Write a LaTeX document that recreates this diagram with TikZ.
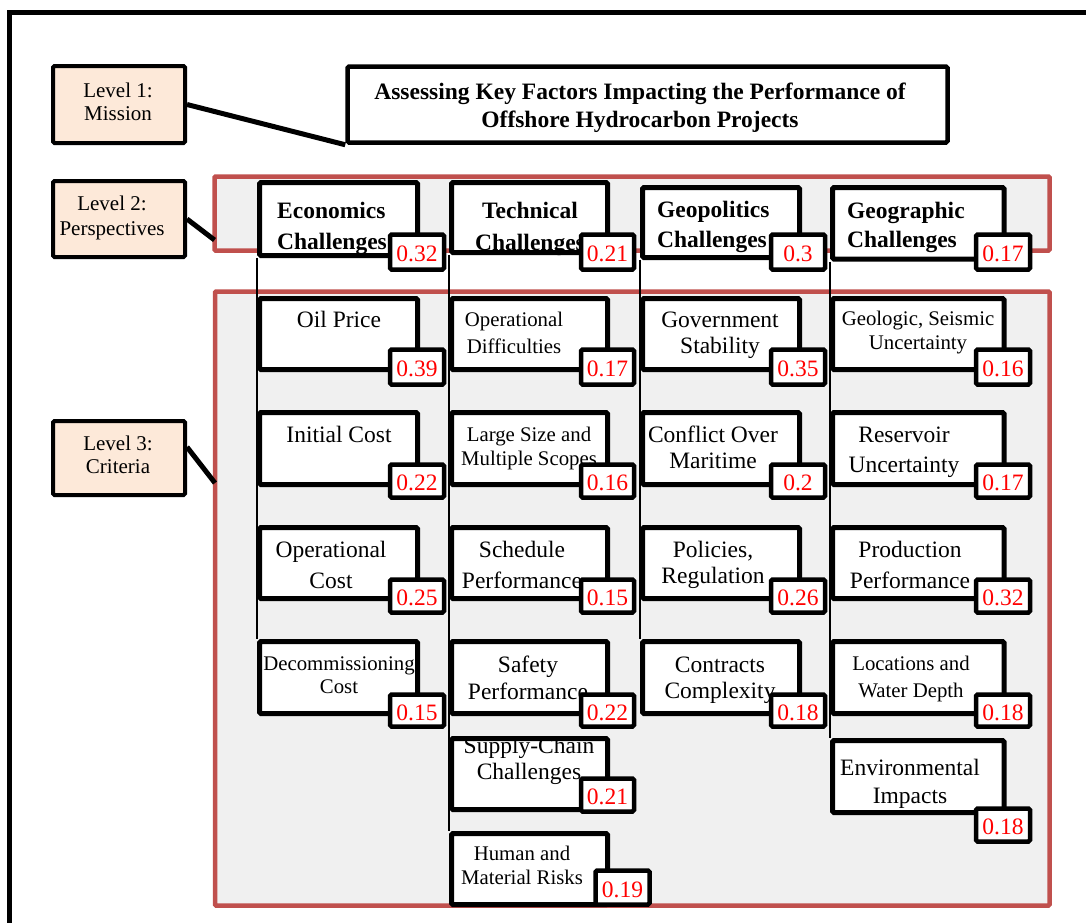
\documentclass[tikz,border=0pt]{standalone}
\usepackage{fontspec}
\setmainfont{Liberation Serif}
\usetikzlibrary{fit,backgrounds}
\definecolor{redline}{HTML}{C0504D}
\definecolor{grayfill}{HTML}{F0F0F0}
\definecolor{peach}{HTML}{FDE9D9}
\newcommand\fsz[2]{\fontsize{#1}{#2}\selectfont}
\newcommand\bigf[1]{\fsz{23.5}{#1}}
\newcommand\smallf[1]{\fsz{20.8}{#1}}
\newcommand\cb[9]{\node[cbox, fit={(#2,#3)(#4,#5)}] (#1) {};
  \node[txt, font=#8] (#1-t) at (#6,#7) {#9};}
\newcommand\wb[6]{\node[wbox, minimum width={#4-#2}, minimum height={#5-#3}] (#1-w) at ({(#2+#4)/2},{(#3+#5)/2}) {#6};}
\begin{document}
\begin{tikzpicture}[x=1pt,y=-1pt,
  cbox/.style={draw=black, line width=5pt, fill=white, rounded corners=1.5pt, inner sep=0pt},
  wbox/.style={draw=black, line width=4.5pt, fill=white, rounded corners=1.5pt, inner sep=0pt, text=red, font=\fsz{23.5}{28}, text height=19.5pt, text depth=0pt},
  lvl/.style={draw=black, line width=4pt, fill=peach, rounded corners=1.5pt, inner sep=0pt},
  redbox/.style={draw=redline, line width=4.5pt, fill=grayfill, rounded corners=1pt, inner sep=0pt},
  txt/.style={inner sep=0pt, align=center, anchor=base},
  conn/.style={draw=black, line width=5pt},
  thin/.style={draw=black, line width=1.3pt},
  frame/.style={draw=black, line width=4.5pt}]
\useasboundingbox (0,0) rectangle (1086,922);
\clip (0,0) rectangle (1086,922);
\draw[frame] (9.5,12.5) rectangle (1100,940);

% level labels
\node[lvl, fit={(53,66)(185,143)}] (lv1) {};
\node[txt, font=\fsz{21}{23}] (lv1-t) at (118,120) {Level 1:\\Mission};
\node[lvl, fit={(53,181)(185,257)}] (lv2) {};
\node[txt, font=\fsz{21}{25}] (lv2-t) at (112,235) {Level 2:\\Perspectives};
\node[lvl, fit={(53,421)(185,495)}] (lv3) {};
\node[txt, font=\fsz{21}{23}] (lv3-t) at (118,473) {Level 3:\\Criteria};

% mission
\node[cbox, line width=4.5pt, fit={(347.5,66.5)(947.5,142.5)}] (mis) {};
\node[txt, font=\bfseries\fsz{23.5}{28}] (mis-t) at (640,127) {Assessing Key Factors Impacting the Performance of\\Offshore Hydrocarbon Projects};

% perspectives
\node[cbox, fit={(259.5,182.5)(417.5,255.5)}] (econ) {};
\node[txt, anchor=base west, align=left, font=\bfseries\fsz{23.5}{31}] (econ-t) at (277,249) {Economics\\Challenges};
\wb{econ}{390}{234.5}{444}{269.5}{0.32}
\node[cbox, fit={(451.5,182.5)(607.5,252.5)}] (tech) {};
\node[txt, font=\bfseries\fsz{23.5}{32}] (tech-t) at (530,250) {Technical\\Challenges};
\wb{tech}{581}{234.5}{634}{269.5}{0.21}
\node[cbox, fit={(642.5,187.5)(799.5,257.5)}] (geop) {};
\node[txt, anchor=base west, align=left, font=\bfseries\fsz{23.5}{30}] (geop-t) at (657,247) {Geopolitics\\Challenges};
\wb{geop}{771}{234.5}{825}{269.5}{0.3}
\node[cbox, fit={(832.5,187.5)(1004,259)}] (geog) {};
\node[txt, anchor=base west, align=left, font=\bfseries\fsz{23.5}{29}] (geog-t) at (847,247) {Geographic\\Challenges};
\wb{geog}{976}{234.5}{1030}{269.5}{0.17}

% criteria row 1
\cb{oil}{259.5}{298.5}{417.5}{369.5}{339}{327}{\bigf{28}}{Oil Price}
\wb{oil}{390}{349.5}{444}{384.5}{0.39}
\cb{opdiff}{451.5}{298.5}{607.5}{369.5}{514}{353}{\smallf{27}}{Operational\\Difficulties}
\wb{opdiff}{581}{349.5}{634}{384.5}{0.17}
\cb{gov}{642.5}{298.5}{799.5}{369.5}{720}{353}{\bigf{26}}{Government\\Stability}
\wb{gov}{771}{349.5}{825}{384.5}{0.35}
\cb{geol}{832.5}{298.5}{1004}{369.5}{918}{349}{\smallf{24}}{Geologic, Seismic\\Uncertainty}
\wb{geol}{976}{349.5}{1030}{384.5}{0.16}

% row 2
\cb{init}{259.5}{412.5}{417.5}{484.5}{339}{442}{\bigf{28}}{Initial Cost}
\wb{init}{390}{464.5}{444}{497.5}{0.22}
\cb{large}{451.5}{412.5}{607.5}{484.5}{529}{465}{\smallf{24}}{Large Size and\\Multiple Scopes}
\wb{large}{581}{464.5}{634}{497.5}{0.16}
\cb{confl}{642.5}{412.5}{799.5}{484.5}{713}{468}{\bigf{26}}{Conflict Over\\Maritime}
\wb{confl}{771}{464.5}{825}{497.5}{0.2}
\cb{resv}{832.5}{412.5}{1004}{484.5}{904}{472}{\bigf{30}}{Reservoir\\Uncertainty}
\wb{resv}{976}{464.5}{1030}{497.5}{0.17}

% row 3
\cb{opcost}{259.5}{527.5}{417.5}{598.5}{331}{588}{\bigf{31}}{Operational\\Cost}
\wb{opcost}{390}{579.5}{444}{612.5}{0.25}
\cb{sched}{451.5}{527.5}{607.5}{598.5}{522}{588}{\bigf{31}}{Schedule\\Performance}
\wb{sched}{581}{579.5}{634}{612.5}{0.15}
\cb{policy}{642.5}{527.5}{799.5}{598.5}{713}{583}{\bigf{26}}{Policies,\\Regulation}
\wb{policy}{771}{579.5}{825}{612.5}{0.26}
\cb{prod}{832.5}{527.5}{1004}{598.5}{910}{588}{\bigf{31}}{Production\\Performance}
\wb{prod}{976}{579.5}{1030}{612.5}{0.32}

% row 4
\cb{decom}{259.5}{641.5}{417.5}{713.5}{339}{693}{\smallf{23}}{Decommissioning\\Cost}
\wb{decom}{390}{694.5}{444}{726.5}{0.15}
\cb{safety}{451.5}{641.5}{607.5}{713.5}{528}{699}{\bigf{27}}{Safety\\Performance}
\wb{safety}{581}{694.5}{634}{726.5}{0.22}
\cb{contr}{642.5}{641.5}{799.5}{713.5}{720}{698}{\bigf{26}}{Contracts\\Complexity}
\wb{contr}{771}{694.5}{825}{726.5}{0.18}
\cb{loc}{832.5}{641.5}{1004}{713.5}{911}{697}{\smallf{27}}{Locations and\\Water Depth}
\wb{loc}{976}{694.5}{1030}{726.5}{0.18}

% rows 5-6
\cb{supply}{451.5}{738.5}{607.5}{809.5}{529}{779}{\bigf{26}}{Supply-Chain\\Challenges}
\wb{supply}{581}{778.5}{634}{811.5}{0.21}
\cb{env}{832.5}{740.5}{1004}{812.5}{910}{803}{\bigf{28}}{Environmental\\Impacts}
\wb{env}{976}{808.5}{1030}{841.5}{0.18}
\cb{human}{451.5}{833.5}{607.5}{904.5}{522}{884}{\smallf{24}}{Human and\\Material Risks}
\wb{human}{595.5}{870.5}{649.5}{904.5}{0.19}

% background: red groups and column lines
\begin{pgfonlayer}{background}
\node[redbox, fit={(214.5,176.5)(1049.5,250.5)}] (red2) {};
\node[redbox, fit={(215,291.5)(1049.5,905.5)}] (red3) {};
\draw[thin] (econ.south west) -- (decom.north west);
\draw[thin] (tech.south west) -- (human.north west);
\draw[thin] (geop.south west) -- (contr.north west);
\draw[thin] (geog.south west) -- (env.north west);
\end{pgfonlayer}

% level connectors
\coordinate (r2c) at (214.5,240);
\coordinate (r3c) at (215,483);
\draw[conn] (lv1.east) -- (mis.south west);
\draw[conn] (lv2.east) -- (r2c);
\draw[conn] ([yshift=11pt]lv3.east) -- (r3c);
\end{tikzpicture}
\end{document}
